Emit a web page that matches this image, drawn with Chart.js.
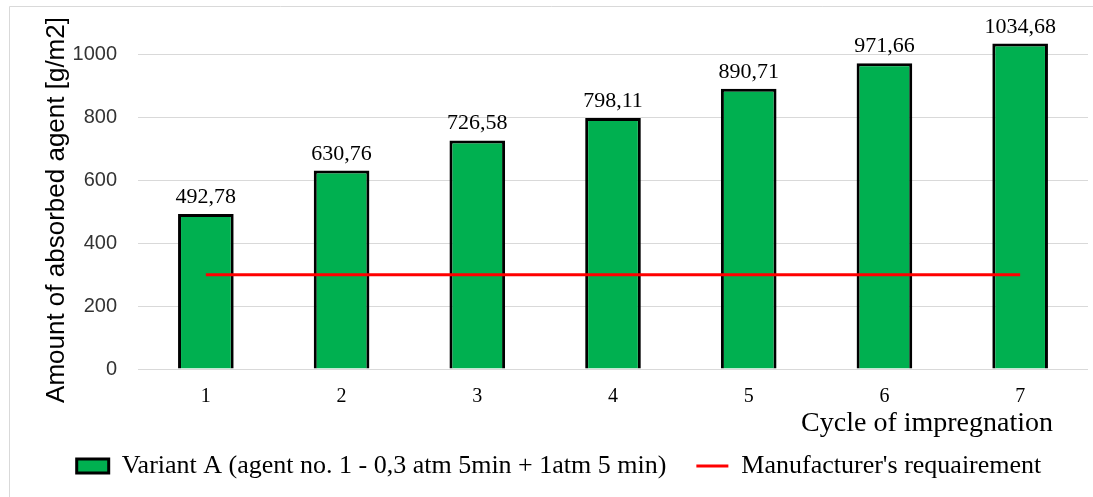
<!DOCTYPE html>
<html>
<head>
<meta charset="utf-8">
<script src="https://cdn.jsdelivr.net/npm/chart.js@4/dist/chart.umd.min.js"></script>
<style>
  html, body { margin: 0; padding: 0; background: #fff; }
  #wrap { width: 1093px; height: 497px; position: relative; }
</style>
</head>
<body>
<div id="wrap"><canvas id="chart"></canvas></div>
<script>
// ---------- Data ----------
const cycles = ["1", "2", "3", "4", "5", "6", "7"];
const absorbed = [492.78, 630.76, 726.58, 798.11, 890.71, 971.66, 1034.68];
const requirement = [300, 300, 300, 300, 300, 300, 300];
const yTicks = [0, 200, 400, 600, 800, 1000];

const serif = '"Liberation Serif", "Times New Roman", serif';
const sans = '"Liberation Sans", Arial, sans-serif';

// white background + faint sheet lines at the left / top edge
const sheetFrame = {
  id: "sheetFrame",
  beforeDraw(chart) {
    const ctx = chart.ctx;
    ctx.save();
    ctx.fillStyle = "#fff";
    ctx.fillRect(0, 0, chart.width, chart.height);
    ctx.strokeStyle = "#d9d9d9";
    ctx.lineWidth = 1;
    ctx.beginPath();
    ctx.moveTo(9.5, 6.5);
    ctx.lineTo(9.5, chart.height);
    ctx.moveTo(9.5, 6.5);
    ctx.lineTo(chart.width, 6.5);
    ctx.stroke();
    ctx.restore();
  }
};

// value labels above the bars + axis titles
const barLabels = {
  id: "barLabels",
  afterDatasetsDraw(chart) {
    const ctx = chart.ctx;
    const area = chart.chartArea;
    const meta = chart.getDatasetMeta(0);
    ctx.save();
    ctx.font = "22px " + serif;
    ctx.fillStyle = "#000";
    ctx.textAlign = "center";
    ctx.textBaseline = "alphabetic";
    meta.data.forEach((bar, i) => {
      ctx.fillText(absorbed[i].toFixed(2).replace(".", ","), bar.x, bar.y - 11);
    });
    // x axis title, right aligned under the last ticks
    ctx.font = "28px " + serif;
    ctx.textAlign = "right";
    ctx.textBaseline = "middle";
    ctx.fillText("Cycle of impregnation", area.right - 35, area.bottom + 55);
    // y axis title, rotated
    ctx.translate(57, area.bottom - 159);
    ctx.rotate(-Math.PI / 2);
    ctx.font = "26px " + sans;
    ctx.textAlign = "center";
    ctx.fillText("Amount of absorbed agent [g/m2]", 0, 0);
    ctx.restore();
  }
};

new Chart(document.getElementById("chart"), {
  data: {
    labels: cycles,
    datasets: [
      {
        type: "bar",
        label: "Variant A (agent no. 1 - 0,3 atm 5min + 1atm 5 min)",
        data: absorbed,
        backgroundColor: "#00b050",
        borderColor: "#000",
        borderWidth: 3,
        barPercentage: 0.41,
        categoryPercentage: 1,
        pointStyle: "rect",
        order: 1,
      },
      {
        type: "line",
        label: "Manufacturer's requairement",
        data: requirement,
        borderColor: "#ff0000",
        backgroundColor: "#ff0000",
        borderWidth: 3,
        pointRadius: 0,
        pointStyle: "line",
        order: 0,
      },
    ],
  },
  options: {
    responsive: true,
    maintainAspectRatio: false,
    animation: false,
    layout: { padding: { top: 23, right: 5, bottom: 8, left: 30 } },
    plugins: {
      legend: {
        position: "bottom",
        labels: {
          font: { family: serif, size: 26 },
          color: "#000",
          usePointStyle: true,
          pointStyleWidth: 32,
          boxHeight: 14,
          padding: 30,
          sort: (a, b) => a.datasetIndex - b.datasetIndex,
        },
      },
      tooltip: { enabled: false },
    },
    scales: {
      x: {
        grid: { display: false, drawTicks: false },
        border: { display: false },
        ticks: { font: { family: serif, size: 20 }, color: "#000", padding: 16 },
        afterFit: (scale) => { scale.height = 54; },
      },
      y: {
        min: 0,
        max: 1100,
        afterBuildTicks: (scale) => { scale.ticks = yTicks.map(v => ({ value: v })); },
        grid: { color: "#d9d9d9", lineWidth: 1, drawTicks: false },
        border: { display: false },
        ticks: {
          font: { family: sans, size: 20 },
          color: "#333",
          padding: 21,
          callback: (v) => String(v),
        },
        afterFit: (scale) => {
          scale.width = 108;
          scale.paddingTop = 0;
          scale.paddingBottom = 0;
        },
      },
    },
  },
  plugins: [sheetFrame, barLabels],
});
</script>
</body>
</html>
